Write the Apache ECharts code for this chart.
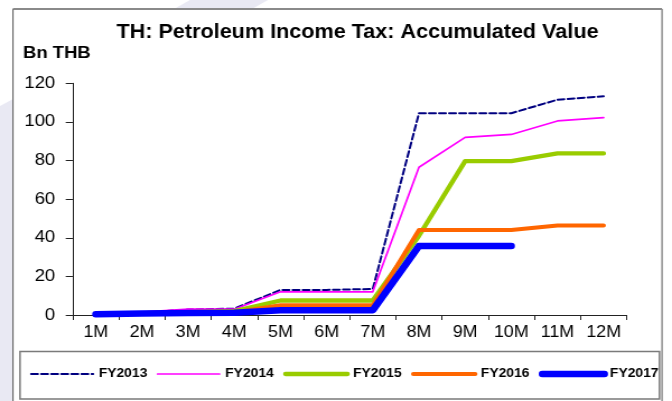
<!DOCTYPE html>
<html>
<head>
<meta charset="utf-8">
<script src="https://cdn.jsdelivr.net/npm/echarts@6/dist/echarts.min.js"></script>
<style>
  html, body { margin: 0; padding: 0; background: #ffffff; overflow: hidden; }
  #wrap { width: 672px; height: 401px; overflow: hidden; position: relative; }
  /* chart drawn on a narrower canvas and widened horizontally */
  #chart { width: 600px; height: 401px; transform: scaleX(1.12); transform-origin: 0 0; }
</style>
</head>
<body>
<div id="wrap"><div id="chart"></div></div>
<script>
// Fiscal-year months
const categories = ['1M', '2M', '3M', '4M', '5M', '6M', '7M', '8M', '9M', '10M', '11M', '12M'];

// Accumulated petroleum income tax, Bn THB
const fy2013 = [0.4, 1.2, 2.8, 3.3, 13, 13, 13.5, 104.5, 104.5, 104.5, 111.5, 113.3];
const fy2014 = [0.4, 1.5, 3, 3, 12, 12, 12, 76.5, 92, 93.5, 100.5, 102.2];
const fy2015 = [0.4, 1, 1.5, 2, 7.5, 7.5, 7.5, 41, 79.7, 79.7, 83.7, 83.7];
const fy2016 = [0.4, 0.8, 1.2, 1.5, 5, 5, 5, 44, 44, 44, 46.3, 46.3];
const fy2017 = [0.4, 0.8, 1, 1.2, 2.5, 2.5, 2.5, 35.7, 35.7, 35.7];

const seriesNames = ['FY2013', 'FY2014', 'FY2015', 'FY2016', 'FY2017'];
const yTicks = { min: 0, max: 120, step: 20 };

const SX = 1.12;              // horizontal widening factor of the page
const px = x => x / SX;       // screen x -> canvas x
const FONT = '"Liberation Sans", Arial, Helvetica, sans-serif';
const WASH = '#e9e9f3';

// per-series line look, shared by the plot and the legend keys
const looks = {
  FY2013: { color: '#000080', width: 2,   dash: [6, 3] },
  FY2014: { color: '#ff00ff', width: 1.7, dash: null },
  FY2015: { color: '#99cc00', width: 4.3, dash: null },
  FY2016: { color: '#ff6600', width: 4,   dash: null },
  FY2017: { color: '#0000ff', width: 6.5, dash: null }
};

const chart = echarts.init(document.getElementById('chart'), null, { renderer: 'canvas' });

function lineSeries(name, data) {
  const lk = looks[name];
  return {
    name: name,
    type: 'line',
    data: data,
    symbol: 'none',
    showSymbol: false,
    connectNulls: false,
    lineStyle: {
      color: lk.color,
      width: lk.width,
      type: lk.dash || 'solid',
      cap: 'round',
      join: 'round'
    },
    itemStyle: { color: lk.color },
    emphasis: { disabled: true },
    animation: false
  };
}

const option = {
  animation: false,
  backgroundColor: 'transparent',
  textStyle: { fontFamily: FONT },
  graphic: [
    // pale backdrop wash outside the frame
    { type: 'polygon', silent: true, z: -10,
      shape: { points: [[px(190), 0], [px(268), 0], [px(252), 9], [px(174), 9]] },
      style: { fill: WASH } },
    { type: 'polygon', silent: true, z: -10,
      shape: { points: [[0, 106], [px(13), 99], [px(13), 401], [0, 401]] },
      style: { fill: WASH } },
    // outer frame
    { type: 'rect', silent: true, z: -5,
      shape: { x: px(13), y: 9, width: px(662) - px(13), height: 420 },
      style: { fill: '#ffffff', stroke: '#555555', lineWidth: 1 } },
    { type: 'line', silent: true, z: -4,
      shape: { x1: px(13), y1: 9, x2: px(662), y2: 9 },
      style: { stroke: '#8a8a8a', lineWidth: 2 } },
    // legend box
    { type: 'rect', silent: true, z: -3,
      shape: { x: px(20), y: 351.5, width: px(659.5) - px(20), height: 47.5 },
      style: { fill: '#ffffff', stroke: '#7a7a7a', lineWidth: 1.5 } },
    // title
    { type: 'text', silent: true,
      left: px(116.5), top: 23,
      style: { text: 'TH: Petroleum Income Tax: Accumulated Value',
               font: 'bold 19.3px ' + FONT, fill: '#000000' } },
    // unit label
    { type: 'text', silent: true,
      left: px(23), top: 45,
      style: { text: 'Bn THB', font: 'bold 16.5px ' + FONT, fill: '#000000' } }
  ],
  legend: {
    data: seriesNames.map(n => ({
      name: n,
      itemStyle: { opacity: 0 },
      lineStyle: { width: looks[n].width, color: looks[n].color, type: looks[n].dash || 'solid', cap: 'round' }
    })),
    left: px(30),
    top: 368,
    width: 580,
    padding: 0,
    itemWidth: px(92) - px(30),
    itemHeight: 14,
    itemGap: 8.3,
    selectedMode: false,
    textStyle: { fontFamily: FONT, fontSize: 12.4, fontWeight: 'bold', color: '#000000' }
  },
  grid: {
    left: px(72.7),
    right: 600 - px(626.7),
    top: 83.3,
    bottom: 401 - 315,
    containLabel: false
  },
  xAxis: {
    type: 'category',
    data: categories,
    boundaryGap: true,
    axisLine: { show: true, lineStyle: { color: '#222222', width: 1 } },
    axisTick: { show: true, length: 5, interval: 0, lineStyle: { color: '#222222' } },
    axisLabel: { interval: 0, margin: 10, fontSize: 16, color: '#000000', fontFamily: FONT },
    splitLine: { show: false }
  },
  yAxis: {
    type: 'value',
    min: yTicks.min,
    max: yTicks.max,
    interval: yTicks.step,
    axisLine: { show: true, lineStyle: { color: '#222222', width: 1 } },
    axisTick: { show: true, length: px(7), lineStyle: { color: '#222222' } },
    axisLabel: { margin: px(17.5), fontSize: 16.5, color: '#000000', fontFamily: FONT },
    splitLine: { show: false }
  },
  series: [
    lineSeries('FY2013', fy2013),
    lineSeries('FY2014', fy2014),
    lineSeries('FY2015', fy2015),
    lineSeries('FY2016', fy2016),
    lineSeries('FY2017', fy2017)
  ]
};

chart.setOption(option);
</script>
</body>
</html>
